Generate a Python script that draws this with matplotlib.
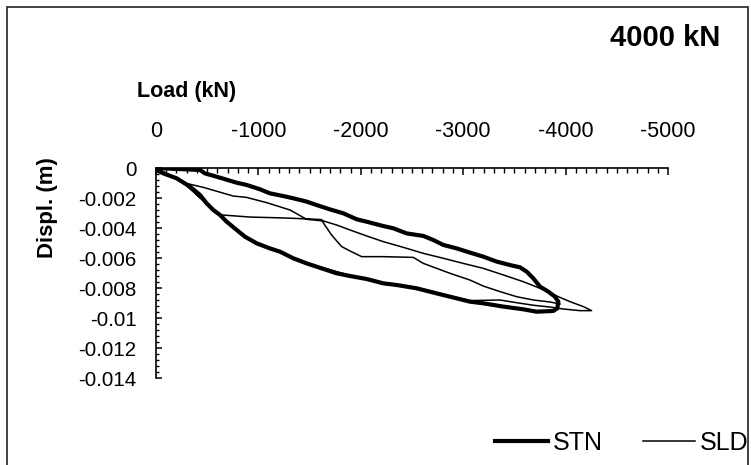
import matplotlib
matplotlib.use("Agg")
import matplotlib.pyplot as plt
from matplotlib.ticker import MultipleLocator
from matplotlib.patches import Rectangle

plt.rcParams['font.family'] = ['Liberation Sans', 'DejaVu Sans']

# pile head load (kN) vs displacement (m), one load cycle to 4000 kN
stn_load = [0, -430, -478, -592, -788, -885, -1016, -1113, -1243, -1341, -1471,
            -1569, -1699, -1829, -1960, -2057, -2220, -2318, -2448, -2611, -2708,
            -2806, -2936, -3066, -3196, -3327, -3457, -3554, -3620, -3685, -3750,
            -3831, -3896, -3929, -3919, -3880,
            -3717, -3587, -3392, -3196, -3066, -2871, -2741, -2545, -2350, -2220,
            -2057, -1894, -1764, -1569, -1471, -1341, -1211, -1113, -983, -869,
            -788, -690, -625, -560, -495, -430, -332, -202, -72, 0]
stn_disp = [0, -0.00013, -0.00036, -0.00058, -0.00098, -0.00113, -0.00142, -0.00169,
            -0.00187, -0.00202, -0.00224, -0.00247, -0.00276, -0.00302, -0.00342,
            -0.00358, -0.00387, -0.00402, -0.00436, -0.00453, -0.00480, -0.00513,
            -0.00536, -0.00564, -0.00591, -0.00624, -0.00647, -0.00662, -0.00691,
            -0.00736, -0.00791, -0.00824, -0.00858, -0.00891, -0.00935, -0.00953,
            -0.00958, -0.00942, -0.00924, -0.00902, -0.00891, -0.00858, -0.00836,
            -0.00802, -0.00780, -0.00769, -0.00740, -0.00720, -0.00702, -0.00658,
            -0.00636, -0.00602, -0.00558, -0.00536, -0.00502, -0.00458, -0.00413,
            -0.00358, -0.00313, -0.00280, -0.00236, -0.00180, -0.00124, -0.00069,
            -0.00036, -0.00013]

sld_load = [0, -137, -267,
            -462, -755, -885, -1081, -1309, -1471, -1634, -1764, -1894, -2057,
            -2220, -2415, -2611, -2806, -3001, -3196, -3392, -3587, -3750, -3847,
            -3929, -4043, -4173, -4254,
            -4140, -3978, -3847, -3685, -3522, -3359, -3066,
            -2871, -2545, -2220, -1894, -1569, -1341, -1113, -918, -788, -690, -641,
            -560, -462, -365, -267, -365, -462, -560, -641,
            -918, -1243, -1504, -1618, -1641, -1715, -1813, -1894, -2008, -2220,
            -2513, -2611, -2741, -2871, -3066, -3196, -3359, -3522, -3685, -3847,
            -3945]
sld_disp = [0, -0.00047, -0.00098,
            -0.00129, -0.00187, -0.00196, -0.00231, -0.00280, -0.00342, -0.00353,
            -0.00380, -0.00413, -0.00453, -0.00491, -0.00529, -0.00569, -0.00602,
            -0.00636, -0.00669, -0.00713, -0.00758, -0.00802, -0.00831, -0.00858,
            -0.00891, -0.00924, -0.00951,
            -0.00951, -0.00940, -0.00927, -0.00915, -0.00898, -0.00880, -0.00884,
            -0.00853, -0.00797, -0.00764, -0.00716, -0.00653, -0.00598, -0.00531,
            -0.00480, -0.00408, -0.00353, -0.00318,
            -0.00285, -0.00218, -0.00158, -0.00098, -0.00158, -0.00218, -0.00285,
            -0.00313,
            -0.00327, -0.00333, -0.00340, -0.00344, -0.00373, -0.00447, -0.00524,
            -0.00553, -0.00591, -0.00591, -0.00596, -0.00636, -0.00669, -0.00702,
            -0.00747, -0.00787, -0.00824, -0.00858, -0.00880, -0.00893, -0.00907]

x_ticks = [0, -1000, -2000, -3000, -4000, -5000]
x_labels = ['0', '-1000', '-2000', '-3000', '-4000', '-5000']
y_ticks = [0, -0.002, -0.004, -0.006, -0.008, -0.01, -0.012, -0.014]
y_labels = ['0', '-0.002', '-0.004', '-0.006', '-0.008', '-0.01', '-0.012', '-0.014']

W, H = 751, 465
fig = plt.figure(figsize=(W / 100, H / 100), dpi=100)
ax = fig.add_axes([156 / W, 1 - 378 / H, 512 / W, 210 / H])

ax.plot(stn_load, stn_disp, color='black', lw=3.0, solid_joinstyle='round', label='STN')
ax.plot(sld_load, sld_disp, color='black', lw=1.1, label='SLD')

ax.set_xlim(0, -5000)
ax.set_ylim(-0.014, 0)

for side in ['right', 'bottom']:
    ax.spines[side].set_visible(False)
ax.spines['left'].set_linewidth(1.2)
ax.spines['top'].set_linewidth(1.2)

ax.xaxis.tick_top()
ax.set_xticks(x_ticks)
ax.set_xticklabels(x_labels)
ax.xaxis.set_minor_locator(MultipleLocator(100))
ax.set_yticks(y_ticks)
ax.set_yticklabels(y_labels)
ax.yaxis.set_minor_locator(MultipleLocator(0.0004))

ax.tick_params(axis='x', which='major', direction='in', length=5, width=1.1,
               labelsize=15.5, pad=18.5)
ax.tick_params(axis='x', which='minor', direction='in', length=3.5, width=1.0)
ax.tick_params(axis='y', which='major', direction='in', length=4.5, width=1.1,
               labelsize=14.8, pad=14)
ax.tick_params(axis='y', which='minor', direction='in', length=2.5, width=1.0)

fig.text(137 / W, 1 - 92 / H, 'Load (kN)', fontsize=15.5, fontweight='bold',
         ha='left', va='center')
fig.text(47 / W, 1 - 208 / H, 'Displ. (m)', fontsize=16, fontweight='bold',
         rotation=90, ha='center', va='center')
fig.text(610 / W, 1 - 38 / H, '4000 kN', fontsize=21, fontweight='bold',
         ha='left', va='center')

fig.legend(loc='center left', bbox_to_anchor=(495 / W, 1 - 443 / H), ncol=2,
           frameon=False, fontsize=18, borderpad=0, borderaxespad=0,
           handlelength=2.1, handletextpad=0.2, columnspacing=1.6)

# chart area frame, open at the bottom edge of the image
fig.patches.append(Rectangle((7 / W, -5 / H), 741 / W, 463 / H, transform=fig.transFigure,
                             fill=False, edgecolor='#222222', lw=1.2))

fig.savefig('out.png', dpi=100)
